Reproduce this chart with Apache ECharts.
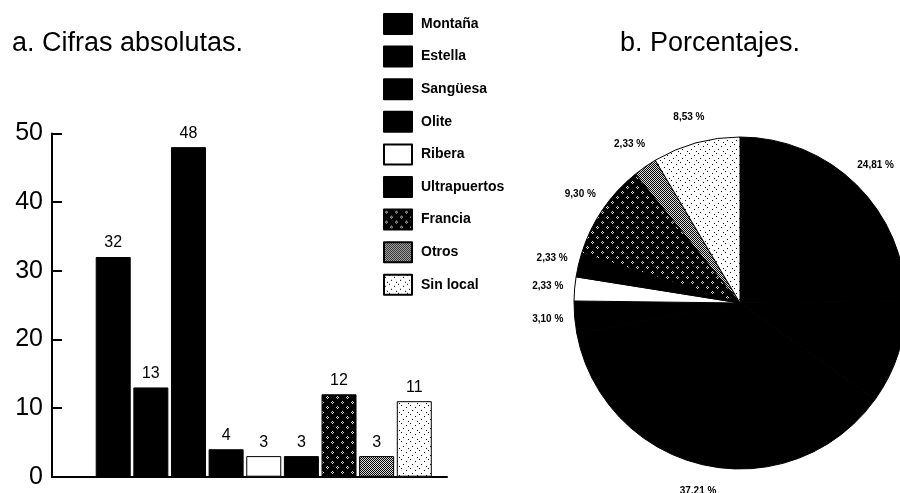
<!DOCTYPE html>
<html>
<head>
<meta charset="utf-8">
<title>Cifras absolutas y porcentajes</title>
<script src="https://cdn.jsdelivr.net/npm/echarts@6/dist/echarts.min.js"></script>
<style>
  html, body { margin: 0; padding: 0; background: #fff; }
  #chart { width: 900px; height: 493px; }
</style>
</head>
<body>
<div id="chart"></div>
<script>
  const categories = ['Montaña', 'Estella', 'Sangüesa', 'Olite', 'Ribera', 'Ultrapuertos', 'Francia', 'Otros', 'Sin local']
  const values = [32, 13, 48, 4, 3, 3, 12, 3, 11]
  const yTicks = [0, 10, 20, 30, 40, 50]

  const total = values.reduce((a, b) => a + b, 0)

  // tramas de relleno (pequeñas baldosas repetidas)
  function tile(size, bg, fg, dots) {
    const c = document.createElement('canvas')
    c.width = size
    c.height = size
    const ctx = c.getContext('2d')
    ctx.fillStyle = bg
    ctx.fillRect(0, 0, size, size)
    ctx.fillStyle = fg
    dots.forEach(d => ctx.fillRect(d[0], d[1], 1, 1))
    return { image: c, repeat: 'repeat' }
  }

  const francia = tile(10, '#000', '#d8d8d8', [
    [2, 1], [1, 2], [3, 2], [2, 3],
    [7, 6], [6, 7], [8, 7], [7, 8]
  ])
  const otros = tile(2, '#d8d8d8', '#000', [[0, 0], [1, 1]])
  const sinLocal = tile(9, '#fff', '#000', [[1, 2], [5, 0], [7, 5], [3, 7]])

  const fills = ['#000', '#000', '#000', '#000', '#fff', '#000', francia, otros, sinLocal]

  let chart = echarts.init(document.getElementById('chart'))

  const font = 'Liberation Sans, Arial, Helvetica, sans-serif'

  const pieData = categories.map((name, i) => ({
    name: name,
    value: values[i],
    itemStyle: { color: fills[i] }
  }))

  const titleStyle = { fontSize: 27, fontWeight: 'normal', fontFamily: font, color: '#000' }

  chart.setOption({
    animation: false,
    title: [
      { text: 'a. Cifras absolutas.', left: 12, top: 30, padding: 0, textStyle: titleStyle },
      { text: 'b. Porcentajes.', left: 620, top: 30, padding: 0, textStyle: titleStyle }
    ],
    legend: {
      orient: 'vertical',
      left: 383,
      top: 13,
      padding: 0,
      itemWidth: 28,
      itemHeight: 20,
      itemGap: 10.6,
      icon: 'rect',
      selectedMode: false,
      data: categories,
      textStyle: { fontSize: 14, fontWeight: 'bold', fontFamily: font, color: '#000', padding: [0, 0, 0, 4] }
    },
    grid: [
      { left: 94.4, top: 133.4, width: 338.7, height: 343.3 },
      { left: 52, top: 133.4, width: 395, height: 343.3 }
    ],
    xAxis: [
      {
        gridIndex: 0,
        type: 'category',
        data: categories,
        axisLine: { show: false },
        axisTick: { show: false },
        axisLabel: { show: false }
      },
      {
        gridIndex: 1,
        type: 'value',
        min: 0,
        max: 1,
        axisLine: { show: true, lineStyle: { color: '#000', width: 2 } },
        axisTick: { show: false },
        axisLabel: { show: false },
        splitLine: { show: false }
      }
    ],
    yAxis: [
      { gridIndex: 0, type: 'value', min: 0, max: 50, show: false },
      {
        gridIndex: 1,
        type: 'value',
        min: yTicks[0],
        max: yTicks[yTicks.length - 1],
        interval: 10,
        axisLine: { show: true, lineStyle: { color: '#000', width: 2 } },
        axisTick: { show: true, inside: true, length: 10, lineStyle: { color: '#000', width: 2 } },
        axisLabel: { fontSize: 25, color: '#000', fontFamily: font, margin: 9 },
        splitLine: { show: false }
      }
    ],
    series: [
      {
        type: 'bar',
        xAxisIndex: 0,
        yAxisIndex: 0,
        barWidth: 35,
        silent: true,
        itemStyle: { borderColor: '#000', borderWidth: 1 },
        label: { show: true, position: 'top', distance: 6, fontSize: 16, color: '#000', fontFamily: font },
        data: values.map((v, i) => ({ value: v, itemStyle: { color: fills[i] } }))
      },
      {
        type: 'pie',
        center: [740, 303],
        radius: 166,
        startAngle: 90,
        clockwise: true,
        silent: true,
        label: { show: false },
        labelLine: { show: false },
        itemStyle: { borderColor: '#000', borderWidth: 1 },
        data: pieData
      },
      {
        // anillo invisible sólo para colocar los porcentajes
        type: 'pie',
        center: [740, 303],
        radius: [166, 214],
        startAngle: 90,
        clockwise: true,
        silent: true,
        itemStyle: { color: 'rgba(0,0,0,0)', borderWidth: 0 },
        label: {
          show: true,
          position: 'inside',
          fontSize: 10,
          fontWeight: 'bold',
          fontFamily: font,
          color: '#000',
          formatter: p => (p.value / total * 100).toFixed(2).replace('.', ',') + ' %'
        },
        labelLine: { show: false },
        data: categories.map((name, i) => ({ name: name, value: values[i] }))
      }
    ]
  })

  window.addEventListener('resize', () => {
    chart.resize()
  })
</script>
</body>
</html>
